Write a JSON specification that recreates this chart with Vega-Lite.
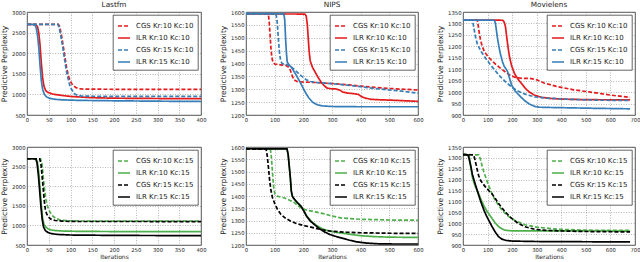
{
  "$schema": "https://vega.github.io/schema/vega-lite/v6.json",
  "padding": {"left": 0, "top": 0, "right": 0, "bottom": 0},
  "background": "white",
  "columns": 3,
  "spacing": {"row": 32, "column": 45},
  "bounds": "flush",
  "config": {
    "font": "DejaVu Sans",
    "view": {"stroke": "#222", "strokeWidth": 0.8},
    "axis": {
      "labelFontSize": 5.3, "labelColor": "#222", "titleFontSize": 7.5, "titleFontWeight": "normal", "titleColor": "#222",
      "domain": false, "ticks": false, "labelPadding": 2, "titlePadding": 3, "format": "d",
      "grid": true, "gridDash": [1, 1.5], "gridColor": "#888", "gridWidth": 0.6, "labelFlush": false
    },
    "title": {"fontSize": 7.3, "fontWeight": "normal", "offset": 2, "anchor": "middle", "color": "#222"},
    "legend": {
      "orient": "top-right", "offset": 3, "title": null, "fillColor": "white", "strokeColor": "#222", "strokeWidth": 0.7,
      "padding": 4, "labelFontSize": 7, "labelColor": "#222", "symbolStrokeWidth": 4, "symbolSize": 144, "rowPadding": 1, "labelOffset": 5
    },
    "line": {"strokeWidth": 1.7}
  },
  "resolve": {"scale": {"color": "independent", "strokeDash": "independent"}, "legend": {"color": "independent", "strokeDash": "independent"}},
  "datasets": {
    "A": [
      {"s": "CGS Kr:10 Kc:10", "x": 0, "y": 2700}, {"s": "CGS Kr:10 Kc:10", "x": 72, "y": 2700}, {"s": "CGS Kr:10 Kc:10", "x": 75, "y": 2650}, {"s": "CGS Kr:10 Kc:10", "x": 79, "y": 2450}, {"s": "CGS Kr:10 Kc:10", "x": 83, "y": 2190}, {"s": "CGS Kr:10 Kc:10", "x": 87, "y": 1920}, {"s": "CGS Kr:10 Kc:10", "x": 91, "y": 1650}, {"s": "CGS Kr:10 Kc:10", "x": 95, "y": 1460}, {"s": "CGS Kr:10 Kc:10", "x": 99, "y": 1330}, {"s": "CGS Kr:10 Kc:10", "x": 103, "y": 1260}, {"s": "CGS Kr:10 Kc:10", "x": 107, "y": 1210}, {"s": "CGS Kr:10 Kc:10", "x": 112, "y": 1170}, {"s": "CGS Kr:10 Kc:10", "x": 118, "y": 1140}, {"s": "CGS Kr:10 Kc:10", "x": 130, "y": 1128}, {"s": "CGS Kr:10 Kc:10", "x": 200, "y": 1124}, {"s": "CGS Kr:10 Kc:10", "x": 300, "y": 1122}, {"s": "CGS Kr:10 Kc:10", "x": 400, "y": 1120},
      {"s": "ILR Kr:10 Kc:10", "x": 0, "y": 2700}, {"s": "ILR Kr:10 Kc:10", "x": 20, "y": 2695}, {"s": "ILR Kr:10 Kc:10", "x": 24, "y": 2650}, {"s": "ILR Kr:10 Kc:10", "x": 27, "y": 2500}, {"s": "ILR Kr:10 Kc:10", "x": 30, "y": 2200}, {"s": "ILR Kr:10 Kc:10", "x": 33, "y": 1750}, {"s": "ILR Kr:10 Kc:10", "x": 36, "y": 1400}, {"s": "ILR Kr:10 Kc:10", "x": 39, "y": 1200}, {"s": "ILR Kr:10 Kc:10", "x": 43, "y": 1090}, {"s": "ILR Kr:10 Kc:10", "x": 48, "y": 1050}, {"s": "ILR Kr:10 Kc:10", "x": 60, "y": 1005}, {"s": "ILR Kr:10 Kc:10", "x": 80, "y": 975}, {"s": "ILR Kr:10 Kc:10", "x": 100, "y": 950}, {"s": "ILR Kr:10 Kc:10", "x": 150, "y": 920}, {"s": "ILR Kr:10 Kc:10", "x": 200, "y": 908}, {"s": "ILR Kr:10 Kc:10", "x": 300, "y": 900}, {"s": "ILR Kr:10 Kc:10", "x": 400, "y": 897},
      {"s": "CGS Kr:15 Kc:10", "x": 0, "y": 2700}, {"s": "CGS Kr:15 Kc:10", "x": 71, "y": 2700}, {"s": "CGS Kr:15 Kc:10", "x": 74, "y": 2620}, {"s": "CGS Kr:15 Kc:10", "x": 78, "y": 2400}, {"s": "CGS Kr:15 Kc:10", "x": 82, "y": 2160}, {"s": "CGS Kr:15 Kc:10", "x": 86, "y": 1880}, {"s": "CGS Kr:15 Kc:10", "x": 90, "y": 1600}, {"s": "CGS Kr:15 Kc:10", "x": 94, "y": 1400}, {"s": "CGS Kr:15 Kc:10", "x": 98, "y": 1230}, {"s": "CGS Kr:15 Kc:10", "x": 102, "y": 1130}, {"s": "CGS Kr:15 Kc:10", "x": 106, "y": 1065}, {"s": "CGS Kr:15 Kc:10", "x": 110, "y": 1010}, {"s": "CGS Kr:15 Kc:10", "x": 115, "y": 980}, {"s": "CGS Kr:15 Kc:10", "x": 125, "y": 960}, {"s": "CGS Kr:15 Kc:10", "x": 150, "y": 955}, {"s": "CGS Kr:15 Kc:10", "x": 250, "y": 950}, {"s": "CGS Kr:15 Kc:10", "x": 400, "y": 950},
      {"s": "ILR Kr:15 Kc:10", "x": 0, "y": 2700}, {"s": "ILR Kr:15 Kc:10", "x": 18, "y": 2695}, {"s": "ILR Kr:15 Kc:10", "x": 21, "y": 2620}, {"s": "ILR Kr:15 Kc:10", "x": 24, "y": 2450}, {"s": "ILR Kr:15 Kc:10", "x": 27, "y": 2150}, {"s": "ILR Kr:15 Kc:10", "x": 30, "y": 1700}, {"s": "ILR Kr:15 Kc:10", "x": 33, "y": 1330}, {"s": "ILR Kr:15 Kc:10", "x": 36, "y": 1120}, {"s": "ILR Kr:15 Kc:10", "x": 40, "y": 1000}, {"s": "ILR Kr:15 Kc:10", "x": 45, "y": 940}, {"s": "ILR Kr:15 Kc:10", "x": 52, "y": 905}, {"s": "ILR Kr:15 Kc:10", "x": 65, "y": 880}, {"s": "ILR Kr:15 Kc:10", "x": 80, "y": 868}, {"s": "ILR Kr:15 Kc:10", "x": 120, "y": 855}, {"s": "ILR Kr:15 Kc:10", "x": 200, "y": 845}, {"s": "ILR Kr:15 Kc:10", "x": 300, "y": 835}, {"s": "ILR Kr:15 Kc:10", "x": 400, "y": 828}
    ],
    "B": [
      {"s": "CGS Kr:10 Kc:10", "x": 0, "y": 1593}, {"s": "CGS Kr:10 Kc:10", "x": 78, "y": 1592}, {"s": "CGS Kr:10 Kc:10", "x": 81, "y": 1560}, {"s": "CGS Kr:10 Kc:10", "x": 84, "y": 1510}, {"s": "CGS Kr:10 Kc:10", "x": 87, "y": 1460}, {"s": "CGS Kr:10 Kc:10", "x": 90, "y": 1425}, {"s": "CGS Kr:10 Kc:10", "x": 94, "y": 1405}, {"s": "CGS Kr:10 Kc:10", "x": 100, "y": 1398}, {"s": "CGS Kr:10 Kc:10", "x": 120, "y": 1395}, {"s": "CGS Kr:10 Kc:10", "x": 140, "y": 1392}, {"s": "CGS Kr:10 Kc:10", "x": 150, "y": 1385}, {"s": "CGS Kr:10 Kc:10", "x": 156, "y": 1370}, {"s": "CGS Kr:10 Kc:10", "x": 162, "y": 1350}, {"s": "CGS Kr:10 Kc:10", "x": 168, "y": 1336}, {"s": "CGS Kr:10 Kc:10", "x": 178, "y": 1330}, {"s": "CGS Kr:10 Kc:10", "x": 200, "y": 1328}, {"s": "CGS Kr:10 Kc:10", "x": 250, "y": 1326}, {"s": "CGS Kr:10 Kc:10", "x": 300, "y": 1322}, {"s": "CGS Kr:10 Kc:10", "x": 350, "y": 1318}, {"s": "CGS Kr:10 Kc:10", "x": 400, "y": 1312}, {"s": "CGS Kr:10 Kc:10", "x": 450, "y": 1307}, {"s": "CGS Kr:10 Kc:10", "x": 500, "y": 1303}, {"s": "CGS Kr:10 Kc:10", "x": 550, "y": 1300}, {"s": "CGS Kr:10 Kc:10", "x": 600, "y": 1297},
      {"s": "ILR Kr:10 Kc:10", "x": 0, "y": 1593}, {"s": "ILR Kr:10 Kc:10", "x": 205, "y": 1592}, {"s": "ILR Kr:10 Kc:10", "x": 210, "y": 1585}, {"s": "ILR Kr:10 Kc:10", "x": 214, "y": 1550}, {"s": "ILR Kr:10 Kc:10", "x": 217, "y": 1500}, {"s": "ILR Kr:10 Kc:10", "x": 220, "y": 1450}, {"s": "ILR Kr:10 Kc:10", "x": 224, "y": 1410}, {"s": "ILR Kr:10 Kc:10", "x": 232, "y": 1385}, {"s": "ILR Kr:10 Kc:10", "x": 242, "y": 1365}, {"s": "ILR Kr:10 Kc:10", "x": 252, "y": 1345}, {"s": "ILR Kr:10 Kc:10", "x": 262, "y": 1328}, {"s": "ILR Kr:10 Kc:10", "x": 272, "y": 1315}, {"s": "ILR Kr:10 Kc:10", "x": 282, "y": 1305}, {"s": "ILR Kr:10 Kc:10", "x": 295, "y": 1302}, {"s": "ILR Kr:10 Kc:10", "x": 315, "y": 1301}, {"s": "ILR Kr:10 Kc:10", "x": 328, "y": 1296}, {"s": "ILR Kr:10 Kc:10", "x": 338, "y": 1289}, {"s": "ILR Kr:10 Kc:10", "x": 355, "y": 1285}, {"s": "ILR Kr:10 Kc:10", "x": 375, "y": 1283}, {"s": "ILR Kr:10 Kc:10", "x": 392, "y": 1280}, {"s": "ILR Kr:10 Kc:10", "x": 402, "y": 1272}, {"s": "ILR Kr:10 Kc:10", "x": 415, "y": 1266}, {"s": "ILR Kr:10 Kc:10", "x": 435, "y": 1261}, {"s": "ILR Kr:10 Kc:10", "x": 470, "y": 1259}, {"s": "ILR Kr:10 Kc:10", "x": 520, "y": 1257}, {"s": "ILR Kr:10 Kc:10", "x": 600, "y": 1253},
      {"s": "CGS Kr:15 Kc:10", "x": 0, "y": 1593}, {"s": "CGS Kr:15 Kc:10", "x": 105, "y": 1592}, {"s": "CGS Kr:15 Kc:10", "x": 109, "y": 1560}, {"s": "CGS Kr:15 Kc:10", "x": 113, "y": 1495}, {"s": "CGS Kr:15 Kc:10", "x": 117, "y": 1440}, {"s": "CGS Kr:15 Kc:10", "x": 121, "y": 1410}, {"s": "CGS Kr:15 Kc:10", "x": 126, "y": 1400}, {"s": "CGS Kr:15 Kc:10", "x": 140, "y": 1396}, {"s": "CGS Kr:15 Kc:10", "x": 150, "y": 1393}, {"s": "CGS Kr:15 Kc:10", "x": 165, "y": 1380}, {"s": "CGS Kr:15 Kc:10", "x": 180, "y": 1365}, {"s": "CGS Kr:15 Kc:10", "x": 195, "y": 1350}, {"s": "CGS Kr:15 Kc:10", "x": 210, "y": 1337}, {"s": "CGS Kr:15 Kc:10", "x": 225, "y": 1330}, {"s": "CGS Kr:15 Kc:10", "x": 250, "y": 1326}, {"s": "CGS Kr:15 Kc:10", "x": 300, "y": 1322}, {"s": "CGS Kr:15 Kc:10", "x": 350, "y": 1316}, {"s": "CGS Kr:15 Kc:10", "x": 400, "y": 1310}, {"s": "CGS Kr:15 Kc:10", "x": 450, "y": 1303}, {"s": "CGS Kr:15 Kc:10", "x": 500, "y": 1297}, {"s": "CGS Kr:15 Kc:10", "x": 550, "y": 1292}, {"s": "CGS Kr:15 Kc:10", "x": 600, "y": 1285},
      {"s": "ILR Kr:15 Kc:10", "x": 0, "y": 1594}, {"s": "ILR Kr:15 Kc:10", "x": 132, "y": 1593}, {"s": "ILR Kr:15 Kc:10", "x": 135, "y": 1570}, {"s": "ILR Kr:15 Kc:10", "x": 138, "y": 1500}, {"s": "ILR Kr:15 Kc:10", "x": 141, "y": 1440}, {"s": "ILR Kr:15 Kc:10", "x": 144, "y": 1405}, {"s": "ILR Kr:15 Kc:10", "x": 150, "y": 1395}, {"s": "ILR Kr:15 Kc:10", "x": 160, "y": 1383}, {"s": "ILR Kr:15 Kc:10", "x": 175, "y": 1355}, {"s": "ILR Kr:15 Kc:10", "x": 190, "y": 1325}, {"s": "ILR Kr:15 Kc:10", "x": 205, "y": 1292}, {"s": "ILR Kr:15 Kc:10", "x": 218, "y": 1268}, {"s": "ILR Kr:15 Kc:10", "x": 232, "y": 1250}, {"s": "ILR Kr:15 Kc:10", "x": 250, "y": 1239}, {"s": "ILR Kr:15 Kc:10", "x": 270, "y": 1235}, {"s": "ILR Kr:15 Kc:10", "x": 300, "y": 1233}, {"s": "ILR Kr:15 Kc:10", "x": 400, "y": 1232}, {"s": "ILR Kr:15 Kc:10", "x": 600, "y": 1232}
    ],
    "C": [
      {"s": "CGS Kr:10 Kc:10", "x": 0, "y": 1315}, {"s": "CGS Kr:10 Kc:10", "x": 58, "y": 1314}, {"s": "CGS Kr:10 Kc:10", "x": 62, "y": 1290}, {"s": "CGS Kr:10 Kc:10", "x": 66, "y": 1260}, {"s": "CGS Kr:10 Kc:10", "x": 71, "y": 1230}, {"s": "CGS Kr:10 Kc:10", "x": 78, "y": 1200}, {"s": "CGS Kr:10 Kc:10", "x": 88, "y": 1175}, {"s": "CGS Kr:10 Kc:10", "x": 100, "y": 1158}, {"s": "CGS Kr:10 Kc:10", "x": 115, "y": 1140}, {"s": "CGS Kr:10 Kc:10", "x": 135, "y": 1120}, {"s": "CGS Kr:10 Kc:10", "x": 160, "y": 1098}, {"s": "CGS Kr:10 Kc:10", "x": 185, "y": 1078}, {"s": "CGS Kr:10 Kc:10", "x": 210, "y": 1065}, {"s": "CGS Kr:10 Kc:10", "x": 240, "y": 1060}, {"s": "CGS Kr:10 Kc:10", "x": 270, "y": 1060}, {"s": "CGS Kr:10 Kc:10", "x": 295, "y": 1056}, {"s": "CGS Kr:10 Kc:10", "x": 330, "y": 1040}, {"s": "CGS Kr:10 Kc:10", "x": 380, "y": 1025}, {"s": "CGS Kr:10 Kc:10", "x": 450, "y": 1010}, {"s": "CGS Kr:10 Kc:10", "x": 520, "y": 1000}, {"s": "CGS Kr:10 Kc:10", "x": 600, "y": 987}, {"s": "CGS Kr:10 Kc:10", "x": 680, "y": 977},
      {"s": "ILR Kr:10 Kc:10", "x": 0, "y": 1315}, {"s": "ILR Kr:10 Kc:10", "x": 162, "y": 1314}, {"s": "ILR Kr:10 Kc:10", "x": 168, "y": 1305}, {"s": "ILR Kr:10 Kc:10", "x": 173, "y": 1285}, {"s": "ILR Kr:10 Kc:10", "x": 178, "y": 1240}, {"s": "ILR Kr:10 Kc:10", "x": 184, "y": 1190}, {"s": "ILR Kr:10 Kc:10", "x": 190, "y": 1150}, {"s": "ILR Kr:10 Kc:10", "x": 198, "y": 1115}, {"s": "ILR Kr:10 Kc:10", "x": 210, "y": 1080}, {"s": "ILR Kr:10 Kc:10", "x": 225, "y": 1055}, {"s": "ILR Kr:10 Kc:10", "x": 240, "y": 1035}, {"s": "ILR Kr:10 Kc:10", "x": 255, "y": 1015}, {"s": "ILR Kr:10 Kc:10", "x": 270, "y": 1000}, {"s": "ILR Kr:10 Kc:10", "x": 290, "y": 987}, {"s": "ILR Kr:10 Kc:10", "x": 320, "y": 977}, {"s": "ILR Kr:10 Kc:10", "x": 360, "y": 972}, {"s": "ILR Kr:10 Kc:10", "x": 420, "y": 969}, {"s": "ILR Kr:10 Kc:10", "x": 500, "y": 967}, {"s": "ILR Kr:10 Kc:10", "x": 680, "y": 966},
      {"s": "CGS Kr:15 Kc:10", "x": 0, "y": 1315}, {"s": "CGS Kr:15 Kc:10", "x": 38, "y": 1314}, {"s": "CGS Kr:15 Kc:10", "x": 42, "y": 1295}, {"s": "CGS Kr:15 Kc:10", "x": 46, "y": 1270}, {"s": "CGS Kr:15 Kc:10", "x": 52, "y": 1235}, {"s": "CGS Kr:15 Kc:10", "x": 58, "y": 1212}, {"s": "CGS Kr:15 Kc:10", "x": 66, "y": 1193}, {"s": "CGS Kr:15 Kc:10", "x": 75, "y": 1175}, {"s": "CGS Kr:15 Kc:10", "x": 92, "y": 1148}, {"s": "CGS Kr:15 Kc:10", "x": 110, "y": 1122}, {"s": "CGS Kr:15 Kc:10", "x": 130, "y": 1095}, {"s": "CGS Kr:15 Kc:10", "x": 150, "y": 1070}, {"s": "CGS Kr:15 Kc:10", "x": 173, "y": 1045}, {"s": "CGS Kr:15 Kc:10", "x": 198, "y": 1022}, {"s": "CGS Kr:15 Kc:10", "x": 225, "y": 1004}, {"s": "CGS Kr:15 Kc:10", "x": 252, "y": 991}, {"s": "CGS Kr:15 Kc:10", "x": 292, "y": 979}, {"s": "CGS Kr:15 Kc:10", "x": 340, "y": 974}, {"s": "CGS Kr:15 Kc:10", "x": 400, "y": 970}, {"s": "CGS Kr:15 Kc:10", "x": 500, "y": 966}, {"s": "CGS Kr:15 Kc:10", "x": 600, "y": 964}, {"s": "CGS Kr:15 Kc:10", "x": 680, "y": 964},
      {"s": "ILR Kr:15 Kc:10", "x": 0, "y": 1315}, {"s": "ILR Kr:15 Kc:10", "x": 128, "y": 1314}, {"s": "ILR Kr:15 Kc:10", "x": 132, "y": 1300}, {"s": "ILR Kr:15 Kc:10", "x": 136, "y": 1270}, {"s": "ILR Kr:15 Kc:10", "x": 140, "y": 1238}, {"s": "ILR Kr:15 Kc:10", "x": 146, "y": 1200}, {"s": "ILR Kr:15 Kc:10", "x": 152, "y": 1168}, {"s": "ILR Kr:15 Kc:10", "x": 160, "y": 1135}, {"s": "ILR Kr:15 Kc:10", "x": 168, "y": 1112}, {"s": "ILR Kr:15 Kc:10", "x": 176, "y": 1100}, {"s": "ILR Kr:15 Kc:10", "x": 182, "y": 1088}, {"s": "ILR Kr:15 Kc:10", "x": 188, "y": 1066}, {"s": "ILR Kr:15 Kc:10", "x": 198, "y": 1030}, {"s": "ILR Kr:15 Kc:10", "x": 212, "y": 1005}, {"s": "ILR Kr:15 Kc:10", "x": 225, "y": 990}, {"s": "ILR Kr:15 Kc:10", "x": 240, "y": 974}, {"s": "ILR Kr:15 Kc:10", "x": 252, "y": 962}, {"s": "ILR Kr:15 Kc:10", "x": 270, "y": 948}, {"s": "ILR Kr:15 Kc:10", "x": 290, "y": 938}, {"s": "ILR Kr:15 Kc:10", "x": 310, "y": 934}, {"s": "ILR Kr:15 Kc:10", "x": 350, "y": 933}, {"s": "ILR Kr:15 Kc:10", "x": 450, "y": 931}, {"s": "ILR Kr:15 Kc:10", "x": 550, "y": 929}, {"s": "ILR Kr:15 Kc:10", "x": 680, "y": 927}
    ],
    "D": [
      {"s": "CGS Kr:10 Kc:15", "x": 0, "y": 2700}, {"s": "CGS Kr:10 Kc:15", "x": 31, "y": 2700}, {"s": "CGS Kr:10 Kc:15", "x": 34, "y": 2600}, {"s": "CGS Kr:10 Kc:15", "x": 36, "y": 2400}, {"s": "CGS Kr:10 Kc:15", "x": 38, "y": 2150}, {"s": "CGS Kr:10 Kc:15", "x": 40, "y": 1950}, {"s": "CGS Kr:10 Kc:15", "x": 43, "y": 1700}, {"s": "CGS Kr:10 Kc:15", "x": 46, "y": 1530}, {"s": "CGS Kr:10 Kc:15", "x": 50, "y": 1400}, {"s": "CGS Kr:10 Kc:15", "x": 55, "y": 1300}, {"s": "CGS Kr:10 Kc:15", "x": 60, "y": 1230}, {"s": "CGS Kr:10 Kc:15", "x": 67, "y": 1175}, {"s": "CGS Kr:10 Kc:15", "x": 75, "y": 1140}, {"s": "CGS Kr:10 Kc:15", "x": 90, "y": 1120}, {"s": "CGS Kr:10 Kc:15", "x": 120, "y": 1112}, {"s": "CGS Kr:10 Kc:15", "x": 200, "y": 1110}, {"s": "CGS Kr:10 Kc:15", "x": 400, "y": 1110},
      {"s": "ILR Kr:10 Kc:15", "x": 0, "y": 2700}, {"s": "ILR Kr:10 Kc:15", "x": 21, "y": 2700}, {"s": "ILR Kr:10 Kc:15", "x": 24, "y": 2620}, {"s": "ILR Kr:10 Kc:15", "x": 27, "y": 2350}, {"s": "ILR Kr:10 Kc:15", "x": 30, "y": 1950}, {"s": "ILR Kr:10 Kc:15", "x": 33, "y": 1500}, {"s": "ILR Kr:10 Kc:15", "x": 36, "y": 1180}, {"s": "ILR Kr:10 Kc:15", "x": 39, "y": 1030}, {"s": "ILR Kr:10 Kc:15", "x": 43, "y": 960}, {"s": "ILR Kr:10 Kc:15", "x": 48, "y": 915}, {"s": "ILR Kr:10 Kc:15", "x": 55, "y": 885}, {"s": "ILR Kr:10 Kc:15", "x": 65, "y": 868}, {"s": "ILR Kr:10 Kc:15", "x": 85, "y": 855}, {"s": "ILR Kr:10 Kc:15", "x": 120, "y": 848}, {"s": "ILR Kr:10 Kc:15", "x": 200, "y": 843}, {"s": "ILR Kr:10 Kc:15", "x": 400, "y": 840},
      {"s": "CGS Kr:15 Kc:15", "x": 0, "y": 2700}, {"s": "CGS Kr:15 Kc:15", "x": 29, "y": 2700}, {"s": "CGS Kr:15 Kc:15", "x": 32, "y": 2580}, {"s": "CGS Kr:15 Kc:15", "x": 34, "y": 2350}, {"s": "CGS Kr:15 Kc:15", "x": 36, "y": 2100}, {"s": "CGS Kr:15 Kc:15", "x": 38, "y": 1850}, {"s": "CGS Kr:15 Kc:15", "x": 40, "y": 1600}, {"s": "CGS Kr:15 Kc:15", "x": 42, "y": 1420}, {"s": "CGS Kr:15 Kc:15", "x": 45, "y": 1300}, {"s": "CGS Kr:15 Kc:15", "x": 49, "y": 1220}, {"s": "CGS Kr:15 Kc:15", "x": 55, "y": 1160}, {"s": "CGS Kr:15 Kc:15", "x": 65, "y": 1125}, {"s": "CGS Kr:15 Kc:15", "x": 80, "y": 1108}, {"s": "CGS Kr:15 Kc:15", "x": 120, "y": 1100}, {"s": "CGS Kr:15 Kc:15", "x": 400, "y": 1098},
      {"s": "ILR Kr:15 Kc:15", "x": 0, "y": 2700}, {"s": "ILR Kr:15 Kc:15", "x": 20, "y": 2700}, {"s": "ILR Kr:15 Kc:15", "x": 23, "y": 2600}, {"s": "ILR Kr:15 Kc:15", "x": 26, "y": 2300}, {"s": "ILR Kr:15 Kc:15", "x": 29, "y": 1900}, {"s": "ILR Kr:15 Kc:15", "x": 32, "y": 1480}, {"s": "ILR Kr:15 Kc:15", "x": 35, "y": 1150}, {"s": "ILR Kr:15 Kc:15", "x": 38, "y": 960}, {"s": "ILR Kr:15 Kc:15", "x": 42, "y": 870}, {"s": "ILR Kr:15 Kc:15", "x": 48, "y": 820}, {"s": "ILR Kr:15 Kc:15", "x": 56, "y": 790}, {"s": "ILR Kr:15 Kc:15", "x": 70, "y": 770}, {"s": "ILR Kr:15 Kc:15", "x": 100, "y": 755}, {"s": "ILR Kr:15 Kc:15", "x": 200, "y": 745}, {"s": "ILR Kr:15 Kc:15", "x": 400, "y": 738}
    ],
    "E": [
      {"s": "CGS Kr:10 Kc:15", "x": 0, "y": 1592}, {"s": "CGS Kr:10 Kc:15", "x": 85, "y": 1591}, {"s": "CGS Kr:10 Kc:15", "x": 88, "y": 1565}, {"s": "CGS Kr:10 Kc:15", "x": 91, "y": 1520}, {"s": "CGS Kr:10 Kc:15", "x": 94, "y": 1470}, {"s": "CGS Kr:10 Kc:15", "x": 97, "y": 1430}, {"s": "CGS Kr:10 Kc:15", "x": 101, "y": 1408}, {"s": "CGS Kr:10 Kc:15", "x": 108, "y": 1400}, {"s": "CGS Kr:10 Kc:15", "x": 120, "y": 1396}, {"s": "CGS Kr:10 Kc:15", "x": 137, "y": 1391}, {"s": "CGS Kr:10 Kc:15", "x": 152, "y": 1383}, {"s": "CGS Kr:10 Kc:15", "x": 166, "y": 1376}, {"s": "CGS Kr:10 Kc:15", "x": 180, "y": 1362}, {"s": "CGS Kr:10 Kc:15", "x": 195, "y": 1349}, {"s": "CGS Kr:10 Kc:15", "x": 215, "y": 1341}, {"s": "CGS Kr:10 Kc:15", "x": 242, "y": 1335}, {"s": "CGS Kr:10 Kc:15", "x": 270, "y": 1328}, {"s": "CGS Kr:10 Kc:15", "x": 300, "y": 1318}, {"s": "CGS Kr:10 Kc:15", "x": 335, "y": 1310}, {"s": "CGS Kr:10 Kc:15", "x": 400, "y": 1305}, {"s": "CGS Kr:10 Kc:15", "x": 500, "y": 1302}, {"s": "CGS Kr:10 Kc:15", "x": 600, "y": 1301},
      {"s": "ILR Kr:10 Kc:15", "x": 0, "y": 1593}, {"s": "ILR Kr:10 Kc:15", "x": 143, "y": 1592}, {"s": "ILR Kr:10 Kc:15", "x": 147, "y": 1570}, {"s": "ILR Kr:10 Kc:15", "x": 151, "y": 1520}, {"s": "ILR Kr:10 Kc:15", "x": 155, "y": 1470}, {"s": "ILR Kr:10 Kc:15", "x": 158, "y": 1420}, {"s": "ILR Kr:10 Kc:15", "x": 162, "y": 1398}, {"s": "ILR Kr:10 Kc:15", "x": 170, "y": 1385}, {"s": "ILR Kr:10 Kc:15", "x": 180, "y": 1372}, {"s": "ILR Kr:10 Kc:15", "x": 192, "y": 1358}, {"s": "ILR Kr:10 Kc:15", "x": 202, "y": 1340}, {"s": "ILR Kr:10 Kc:15", "x": 212, "y": 1318}, {"s": "ILR Kr:10 Kc:15", "x": 225, "y": 1300}, {"s": "ILR Kr:10 Kc:15", "x": 240, "y": 1285}, {"s": "ILR Kr:10 Kc:15", "x": 255, "y": 1273}, {"s": "ILR Kr:10 Kc:15", "x": 270, "y": 1264}, {"s": "ILR Kr:10 Kc:15", "x": 290, "y": 1257}, {"s": "ILR Kr:10 Kc:15", "x": 320, "y": 1251}, {"s": "ILR Kr:10 Kc:15", "x": 360, "y": 1244}, {"s": "ILR Kr:10 Kc:15", "x": 400, "y": 1238}, {"s": "ILR Kr:10 Kc:15", "x": 450, "y": 1234}, {"s": "ILR Kr:10 Kc:15", "x": 500, "y": 1232}, {"s": "ILR Kr:10 Kc:15", "x": 600, "y": 1231},
      {"s": "CGS Kr:15 Kc:15", "x": 0, "y": 1592}, {"s": "CGS Kr:15 Kc:15", "x": 70, "y": 1591}, {"s": "CGS Kr:15 Kc:15", "x": 74, "y": 1565}, {"s": "CGS Kr:15 Kc:15", "x": 78, "y": 1520}, {"s": "CGS Kr:15 Kc:15", "x": 82, "y": 1470}, {"s": "CGS Kr:15 Kc:15", "x": 86, "y": 1430}, {"s": "CGS Kr:15 Kc:15", "x": 92, "y": 1395}, {"s": "CGS Kr:15 Kc:15", "x": 100, "y": 1370}, {"s": "CGS Kr:15 Kc:15", "x": 110, "y": 1345}, {"s": "CGS Kr:15 Kc:15", "x": 122, "y": 1325}, {"s": "CGS Kr:15 Kc:15", "x": 137, "y": 1310}, {"s": "CGS Kr:15 Kc:15", "x": 155, "y": 1298}, {"s": "CGS Kr:15 Kc:15", "x": 175, "y": 1288}, {"s": "CGS Kr:15 Kc:15", "x": 200, "y": 1280}, {"s": "CGS Kr:15 Kc:15", "x": 230, "y": 1272}, {"s": "CGS Kr:15 Kc:15", "x": 265, "y": 1262}, {"s": "CGS Kr:15 Kc:15", "x": 300, "y": 1256}, {"s": "CGS Kr:15 Kc:15", "x": 350, "y": 1252}, {"s": "CGS Kr:15 Kc:15", "x": 400, "y": 1250}, {"s": "CGS Kr:15 Kc:15", "x": 500, "y": 1248}, {"s": "CGS Kr:15 Kc:15", "x": 600, "y": 1247},
      {"s": "ILR Kr:15 Kc:15", "x": 0, "y": 1593}, {"s": "ILR Kr:15 Kc:15", "x": 143, "y": 1592}, {"s": "ILR Kr:15 Kc:15", "x": 147, "y": 1570}, {"s": "ILR Kr:15 Kc:15", "x": 151, "y": 1520}, {"s": "ILR Kr:15 Kc:15", "x": 155, "y": 1470}, {"s": "ILR Kr:15 Kc:15", "x": 158, "y": 1420}, {"s": "ILR Kr:15 Kc:15", "x": 162, "y": 1398}, {"s": "ILR Kr:15 Kc:15", "x": 170, "y": 1385}, {"s": "ILR Kr:15 Kc:15", "x": 180, "y": 1372}, {"s": "ILR Kr:15 Kc:15", "x": 192, "y": 1358}, {"s": "ILR Kr:15 Kc:15", "x": 202, "y": 1338}, {"s": "ILR Kr:15 Kc:15", "x": 212, "y": 1316}, {"s": "ILR Kr:15 Kc:15", "x": 225, "y": 1297}, {"s": "ILR Kr:15 Kc:15", "x": 240, "y": 1282}, {"s": "ILR Kr:15 Kc:15", "x": 255, "y": 1268}, {"s": "ILR Kr:15 Kc:15", "x": 270, "y": 1256}, {"s": "ILR Kr:15 Kc:15", "x": 290, "y": 1244}, {"s": "ILR Kr:15 Kc:15", "x": 310, "y": 1236}, {"s": "ILR Kr:15 Kc:15", "x": 335, "y": 1228}, {"s": "ILR Kr:15 Kc:15", "x": 360, "y": 1220}, {"s": "ILR Kr:15 Kc:15", "x": 385, "y": 1213}, {"s": "ILR Kr:15 Kc:15", "x": 420, "y": 1208}, {"s": "ILR Kr:15 Kc:15", "x": 460, "y": 1205}, {"s": "ILR Kr:15 Kc:15", "x": 520, "y": 1204}, {"s": "ILR Kr:15 Kc:15", "x": 600, "y": 1204}
    ],
    "F": [
      {"s": "CGS Kr:10 Kc:15", "x": 0, "y": 1315}, {"s": "CGS Kr:10 Kc:15", "x": 64, "y": 1314}, {"s": "CGS Kr:10 Kc:15", "x": 68, "y": 1305}, {"s": "CGS Kr:10 Kc:15", "x": 73, "y": 1285}, {"s": "CGS Kr:10 Kc:15", "x": 78, "y": 1262}, {"s": "CGS Kr:10 Kc:15", "x": 85, "y": 1235}, {"s": "CGS Kr:10 Kc:15", "x": 92, "y": 1212}, {"s": "CGS Kr:10 Kc:15", "x": 102, "y": 1180}, {"s": "CGS Kr:10 Kc:15", "x": 112, "y": 1152}, {"s": "CGS Kr:10 Kc:15", "x": 122, "y": 1125}, {"s": "CGS Kr:10 Kc:15", "x": 132, "y": 1104}, {"s": "CGS Kr:10 Kc:15", "x": 145, "y": 1082}, {"s": "CGS Kr:10 Kc:15", "x": 160, "y": 1058}, {"s": "CGS Kr:10 Kc:15", "x": 185, "y": 1032}, {"s": "CGS Kr:10 Kc:15", "x": 212, "y": 1012}, {"s": "CGS Kr:10 Kc:15", "x": 252, "y": 993}, {"s": "CGS Kr:10 Kc:15", "x": 300, "y": 982}, {"s": "CGS Kr:10 Kc:15", "x": 387, "y": 972}, {"s": "CGS Kr:10 Kc:15", "x": 500, "y": 968}, {"s": "CGS Kr:10 Kc:15", "x": 680, "y": 967},
      {"s": "ILR Kr:10 Kc:15", "x": 0, "y": 1315}, {"s": "ILR Kr:10 Kc:15", "x": 24, "y": 1314}, {"s": "ILR Kr:10 Kc:15", "x": 28, "y": 1290}, {"s": "ILR Kr:10 Kc:15", "x": 33, "y": 1250}, {"s": "ILR Kr:10 Kc:15", "x": 38, "y": 1212}, {"s": "ILR Kr:10 Kc:15", "x": 45, "y": 1185}, {"s": "ILR Kr:10 Kc:15", "x": 51, "y": 1166}, {"s": "ILR Kr:10 Kc:15", "x": 58, "y": 1150}, {"s": "ILR Kr:10 Kc:15", "x": 64, "y": 1135}, {"s": "ILR Kr:10 Kc:15", "x": 71, "y": 1115}, {"s": "ILR Kr:10 Kc:15", "x": 78, "y": 1097}, {"s": "ILR Kr:10 Kc:15", "x": 86, "y": 1078}, {"s": "ILR Kr:10 Kc:15", "x": 95, "y": 1060}, {"s": "ILR Kr:10 Kc:15", "x": 105, "y": 1043}, {"s": "ILR Kr:10 Kc:15", "x": 118, "y": 1022}, {"s": "ILR Kr:10 Kc:15", "x": 132, "y": 1000}, {"s": "ILR Kr:10 Kc:15", "x": 145, "y": 984}, {"s": "ILR Kr:10 Kc:15", "x": 160, "y": 973}, {"s": "ILR Kr:10 Kc:15", "x": 175, "y": 967}, {"s": "ILR Kr:10 Kc:15", "x": 200, "y": 965}, {"s": "ILR Kr:10 Kc:15", "x": 680, "y": 964},
      {"s": "CGS Kr:15 Kc:15", "x": 0, "y": 1315}, {"s": "CGS Kr:15 Kc:15", "x": 43, "y": 1314}, {"s": "CGS Kr:15 Kc:15", "x": 48, "y": 1295}, {"s": "CGS Kr:15 Kc:15", "x": 53, "y": 1270}, {"s": "CGS Kr:15 Kc:15", "x": 58, "y": 1245}, {"s": "CGS Kr:15 Kc:15", "x": 64, "y": 1218}, {"s": "CGS Kr:15 Kc:15", "x": 72, "y": 1196}, {"s": "CGS Kr:15 Kc:15", "x": 82, "y": 1180}, {"s": "CGS Kr:15 Kc:15", "x": 92, "y": 1166}, {"s": "CGS Kr:15 Kc:15", "x": 105, "y": 1150}, {"s": "CGS Kr:15 Kc:15", "x": 118, "y": 1135}, {"s": "CGS Kr:15 Kc:15", "x": 132, "y": 1112}, {"s": "CGS Kr:15 Kc:15", "x": 145, "y": 1090}, {"s": "CGS Kr:15 Kc:15", "x": 160, "y": 1068}, {"s": "CGS Kr:15 Kc:15", "x": 172, "y": 1052}, {"s": "CGS Kr:15 Kc:15", "x": 185, "y": 1036}, {"s": "CGS Kr:15 Kc:15", "x": 198, "y": 1022}, {"s": "CGS Kr:15 Kc:15", "x": 212, "y": 1010}, {"s": "CGS Kr:15 Kc:15", "x": 225, "y": 999}, {"s": "CGS Kr:15 Kc:15", "x": 252, "y": 984}, {"s": "CGS Kr:15 Kc:15", "x": 292, "y": 972}, {"s": "CGS Kr:15 Kc:15", "x": 340, "y": 967}, {"s": "CGS Kr:15 Kc:15", "x": 387, "y": 965}, {"s": "CGS Kr:15 Kc:15", "x": 500, "y": 962}, {"s": "CGS Kr:15 Kc:15", "x": 680, "y": 960},
      {"s": "ILR Kr:15 Kc:15", "x": 0, "y": 1315}, {"s": "ILR Kr:15 Kc:15", "x": 20, "y": 1314}, {"s": "ILR Kr:15 Kc:15", "x": 24, "y": 1300}, {"s": "ILR Kr:15 Kc:15", "x": 28, "y": 1280}, {"s": "ILR Kr:15 Kc:15", "x": 33, "y": 1255}, {"s": "ILR Kr:15 Kc:15", "x": 38, "y": 1225}, {"s": "ILR Kr:15 Kc:15", "x": 45, "y": 1198}, {"s": "ILR Kr:15 Kc:15", "x": 51, "y": 1175}, {"s": "ILR Kr:15 Kc:15", "x": 58, "y": 1150}, {"s": "ILR Kr:15 Kc:15", "x": 64, "y": 1128}, {"s": "ILR Kr:15 Kc:15", "x": 71, "y": 1104}, {"s": "ILR Kr:15 Kc:15", "x": 78, "y": 1082}, {"s": "ILR Kr:15 Kc:15", "x": 86, "y": 1058}, {"s": "ILR Kr:15 Kc:15", "x": 95, "y": 1035}, {"s": "ILR Kr:15 Kc:15", "x": 105, "y": 1013}, {"s": "ILR Kr:15 Kc:15", "x": 118, "y": 985}, {"s": "ILR Kr:15 Kc:15", "x": 132, "y": 958}, {"s": "ILR Kr:15 Kc:15", "x": 145, "y": 938}, {"s": "ILR Kr:15 Kc:15", "x": 158, "y": 927}, {"s": "ILR Kr:15 Kc:15", "x": 175, "y": 921}, {"s": "ILR Kr:15 Kc:15", "x": 200, "y": 918}, {"s": "ILR Kr:15 Kc:15", "x": 300, "y": 916}, {"s": "ILR Kr:15 Kc:15", "x": 680, "y": 914}
    ]
  },
  "concat": [
    {
      "width": 174, "height": 103, "title": "Lastfm",
      "data": {"name": "A"},
      "mark": {"type": "line", "strokeWidth": 1.7},
      "encoding": {
        "x": {"field": "x", "type": "quantitative", "scale": {"domain": [0, 400], "nice": false}, "axis": {"values": [0, 50, 100, 150, 200, 250, 300, 350, 400], "title": null}},
        "y": {"field": "y", "type": "quantitative", "scale": {"domain": [500, 3000], "nice": false, "zero": false}, "axis": {"values": [500, 1000, 1500, 2000, 2500, 3000], "title": "Predictive Perplexity"}},
        "color": {"field": "s", "type": "nominal", "scale": {"domain": ["CGS Kr:10 Kc:10", "ILR Kr:10 Kc:10", "CGS Kr:15 Kc:10", "ILR Kr:15 Kc:10"], "range": ["#e41a1c", "#e41a1c", "#377eb8", "#377eb8"]}},
        "strokeDash": {"field": "s", "type": "nominal", "scale": {"domain": ["CGS Kr:10 Kc:10", "ILR Kr:10 Kc:10", "CGS Kr:15 Kc:10", "ILR Kr:15 Kc:10"], "range": [[4, 2], [1, 0], [4, 2], [1, 0]]}}
      }
    },
    {
      "width": 172, "height": 103, "title": "NIPS",
      "data": {"name": "B"},
      "mark": {"type": "line", "strokeWidth": 1.7},
      "encoding": {
        "x": {"field": "x", "type": "quantitative", "scale": {"domain": [0, 600], "nice": false}, "axis": {"values": [0, 100, 200, 300, 400, 500, 600], "title": null}},
        "y": {"field": "y", "type": "quantitative", "scale": {"domain": [1200, 1600], "nice": false, "zero": false}, "axis": {"values": [1200, 1250, 1300, 1350, 1400, 1450, 1500, 1550, 1600], "title": "Predictive Perplexity"}},
        "color": {"field": "s", "type": "nominal", "scale": {"domain": ["CGS Kr:10 Kc:10", "ILR Kr:10 Kc:10", "CGS Kr:15 Kc:10", "ILR Kr:15 Kc:10"], "range": ["#e41a1c", "#e41a1c", "#377eb8", "#377eb8"]}},
        "strokeDash": {"field": "s", "type": "nominal", "scale": {"domain": ["CGS Kr:10 Kc:10", "ILR Kr:10 Kc:10", "CGS Kr:15 Kc:10", "ILR Kr:15 Kc:10"], "range": [[4, 2], [1, 0], [4, 2], [1, 0]]}}
      }
    },
    {
      "width": 172, "height": 103, "title": "Movielens",
      "data": {"name": "C"},
      "mark": {"type": "line", "strokeWidth": 1.7},
      "encoding": {
        "x": {"field": "x", "type": "quantitative", "scale": {"domain": [0, 700], "nice": false}, "axis": {"values": [0, 100, 200, 300, 400, 500, 600, 700], "title": null}},
        "y": {"field": "y", "type": "quantitative", "scale": {"domain": [900, 1350], "nice": false, "zero": false}, "axis": {"values": [900, 950, 1000, 1050, 1100, 1150, 1200, 1250, 1300, 1350], "title": "Predictive Perplexity"}},
        "color": {"field": "s", "type": "nominal", "scale": {"domain": ["CGS Kr:10 Kc:10", "ILR Kr:10 Kc:10", "CGS Kr:15 Kc:10", "ILR Kr:15 Kc:10"], "range": ["#e41a1c", "#e41a1c", "#377eb8", "#377eb8"]}},
        "strokeDash": {"field": "s", "type": "nominal", "scale": {"domain": ["CGS Kr:10 Kc:10", "ILR Kr:10 Kc:10", "CGS Kr:15 Kc:10", "ILR Kr:15 Kc:10"], "range": [[4, 2], [1, 0], [4, 2], [1, 0]]}}
      }
    },
    {
      "width": 174, "height": 98,
      "data": {"name": "D"},
      "mark": {"type": "line", "strokeWidth": 1.7},
      "encoding": {
        "x": {"field": "x", "type": "quantitative", "scale": {"domain": [0, 400], "nice": false}, "axis": {"values": [0, 50, 100, 150, 200, 250, 300, 350, 400], "title": "Iterations", "titleFontSize": 6, "titlePadding": 1}},
        "y": {"field": "y", "type": "quantitative", "scale": {"domain": [500, 3000], "nice": false, "zero": false}, "axis": {"values": [500, 1000, 1500, 2000, 2500, 3000], "title": "Predictive Perplexity"}},
        "color": {"field": "s", "type": "nominal", "scale": {"domain": ["CGS Kr:10 Kc:15", "ILR Kr:10 Kc:15", "CGS Kr:15 Kc:15", "ILR Kr:15 Kc:15"], "range": ["#4daf4a", "#4daf4a", "#000000", "#000000"]}},
        "strokeDash": {"field": "s", "type": "nominal", "scale": {"domain": ["CGS Kr:10 Kc:15", "ILR Kr:10 Kc:15", "CGS Kr:15 Kc:15", "ILR Kr:15 Kc:15"], "range": [[4, 2], [1, 0], [4, 2], [1, 0]]}}
      }
    },
    {
      "width": 172, "height": 98,
      "data": {"name": "E"},
      "mark": {"type": "line", "strokeWidth": 1.7},
      "encoding": {
        "x": {"field": "x", "type": "quantitative", "scale": {"domain": [0, 600], "nice": false}, "axis": {"values": [0, 100, 200, 300, 400, 500, 600], "title": "Iterations", "titleFontSize": 6, "titlePadding": 1}},
        "y": {"field": "y", "type": "quantitative", "scale": {"domain": [1200, 1600], "nice": false, "zero": false}, "axis": {"values": [1200, 1250, 1300, 1350, 1400, 1450, 1500, 1550, 1600], "title": "Predictive Perplexity"}},
        "color": {"field": "s", "type": "nominal", "scale": {"domain": ["CGS Kr:10 Kc:15", "ILR Kr:10 Kc:15", "CGS Kr:15 Kc:15", "ILR Kr:15 Kc:15"], "range": ["#4daf4a", "#4daf4a", "#000000", "#000000"]}},
        "strokeDash": {"field": "s", "type": "nominal", "scale": {"domain": ["CGS Kr:10 Kc:15", "ILR Kr:10 Kc:15", "CGS Kr:15 Kc:15", "ILR Kr:15 Kc:15"], "range": [[4, 2], [1, 0], [4, 2], [1, 0]]}}
      }
    },
    {
      "width": 172, "height": 98,
      "data": {"name": "F"},
      "mark": {"type": "line", "strokeWidth": 1.7},
      "encoding": {
        "x": {"field": "x", "type": "quantitative", "scale": {"domain": [0, 700], "nice": false}, "axis": {"values": [0, 100, 200, 300, 400, 500, 600, 700], "title": "Iterations", "titleFontSize": 6, "titlePadding": 1}},
        "y": {"field": "y", "type": "quantitative", "scale": {"domain": [900, 1350], "nice": false, "zero": false}, "axis": {"values": [900, 950, 1000, 1050, 1100, 1150, 1200, 1250, 1300, 1350], "title": "Predictive Perplexity"}},
        "color": {"field": "s", "type": "nominal", "scale": {"domain": ["CGS Kr:10 Kc:15", "ILR Kr:10 Kc:15", "CGS Kr:15 Kc:15", "ILR Kr:15 Kc:15"], "range": ["#4daf4a", "#4daf4a", "#000000", "#000000"]}},
        "strokeDash": {"field": "s", "type": "nominal", "scale": {"domain": ["CGS Kr:10 Kc:15", "ILR Kr:10 Kc:15", "CGS Kr:15 Kc:15", "ILR Kr:15 Kc:15"], "range": [[4, 2], [1, 0], [4, 2], [1, 0]]}}
      }
    }
  ]
}
